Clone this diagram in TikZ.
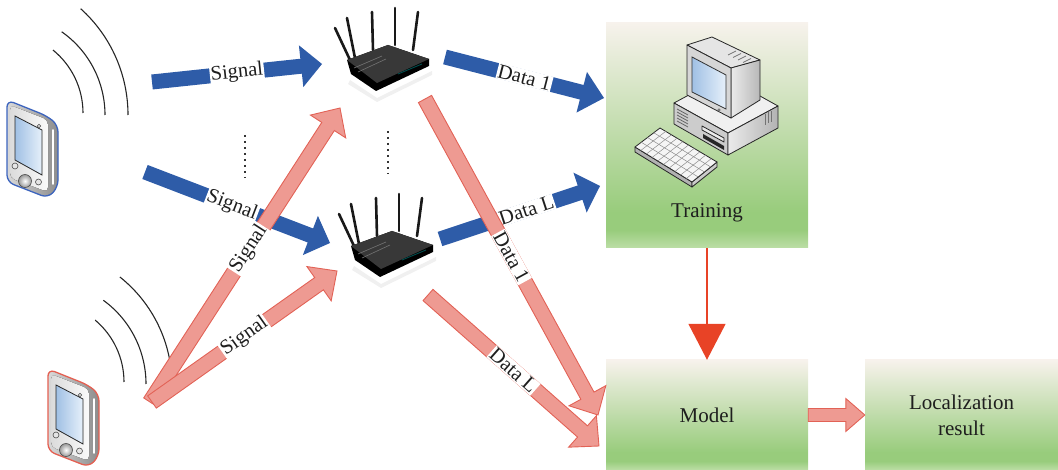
\documentclass[tikz,border=0pt]{standalone}
\usepackage{fontspec}
\setmainfont{Liberation Serif}
\usetikzlibrary{calc,arrows.meta}

\definecolor{blueA}{RGB}{46,92,168}
\definecolor{redF}{RGB}{238,154,146}
\definecolor{redL}{RGB}{226,98,86}
\definecolor{trainred}{RGB}{232,67,38}
\definecolor{txt}{RGB}{30,30,30}
\definecolor{edgeblue}{RGB}{60,100,190}
\definecolor{edgered}{RGB}{228,96,82}
\definecolor{gTop}{RGB}{247,242,236}
\definecolor{gGreen}{RGB}{152,204,124}
\definecolor{gBot}{RGB}{188,222,166}
\definecolor{screenA}{RGB}{160,192,228}
\definecolor{screenB}{RGB}{230,240,250}

% light-to-green fill of the process boxes (bottom = 25bp, top = 75bp)
\pgfdeclareverticalshading{boxshade}{100bp}{color(0bp)=(gBot); color(25bp)=(gBot); color(29bp)=(gGreen); color(33bp)=(gGreen); color(75bp)=(gTop); color(100bp)=(gTop)}

% block arrow from #2 to #3: shaft half width #4, head half width #5, head length #6
\newcommand{\drawfatarrow}[6]{%
  \coordinate (fab) at ($(#3)!#6!(#2)$);
  \path[#1] ($(#2)!#4!90:(#3)$) -- ($(fab)!#4!90:(#3)$) -- ($(fab)!#5!90:(#3)$) -- (#3)
    -- ($(fab)!#5!-90:(#3)$) -- ($(fab)!#4!-90:(#3)$) -- ($(#2)!#4!-90:(#3)$) -- cycle;}

\tikzset{
  lbl/.style={fill=white, inner sep=1pt, text=txt, font=\fontsize{20.5}{24}\selectfont},
  bluearrow/.style={fill=blueA},
  redarrow/.style={fill=redF, draw=redL, line width=0.9pt, line join=miter},
  greenbox/.style={shade, shading=boxshade, draw=none, inner sep=0pt,
    text=txt, font=\fontsize{21}{26}\selectfont, align=center},
  boxtext/.style={text=txt, font=\fontsize{21}{26}\selectfont, align=center},
  wave/.style={draw=black!85, line width=1.1pt},
  dotline/.style={draw=black!80, line width=1.8pt, dash pattern=on 1.8pt off 4.2pt},
  cpuedge/.style={draw=black!85, line width=0.8pt, line join=round},
  pics/pda/.style={code={
    \draw[draw=#1, line width=1.3pt, rounded corners=7pt, left color=black!15, right color=black!45]
      (0,2) -- (40,18) -- (51,27) -- (51,89) -- (41,100) -- (0,84) -- cycle;
    \fill[rounded corners=5pt, left color=black!14, right color=black!2]
      (3,7) -- (41,22) -- (41,94) -- (3,80) -- cycle;
    \draw[white, line width=1.6pt, line cap=round] (46,32) -- (46,86);
    \draw[black!85, line width=0.8pt, left color=screenA, right color=screenB]
      (8,18) -- (35,32) -- (35,77) -- (8,62) -- cycle;
    \draw[black!70, fill=black!10, line width=0.5pt] (32,28) circle (1.8);
    \draw[black!70, fill=black!10, line width=0.6pt] (8,68) circle (3);
    \draw[black!70, inner color=white, outer color=black!40, line width=0.6pt] (18,83) circle (6.5);
    \draw[black!70, fill=black!10, line width=0.6pt] (31.5,84) circle (3);
  }},
  pics/router/.style={code={
    \foreach \ax/\ay/\bx/\by in {-45/-22/-30/10, -33/-32/-25/8, -8/-38/-7/0, 15/-42/15/-5, 38/-38/33/0}
      \draw[black!90, line width=2.6pt, line cap=round] (\ax,\ay) -- (\bx,\by);
    \fill[black!6] (-30,30) -- (-3,48) -- (52,21) -- (52,25) -- (-3,52) -- (-32,34) -- cycle;
    \fill[black] (-33,10) -- (8,-5) -- (49,9) -- (49,16) -- (-4,41) -- (-29,24) -- cycle;
    \fill[black!78] (-33,10) -- (8,-5) -- (49,9) -- (-3,33) -- cycle;
    \draw[black!55, line width=0.6pt] (-26,18) -- (2,6) (-22,22) -- (6,9);
    \draw[teal!60!black, line width=0.9pt] (18,24) -- (42,14);
  }},
}

\begin{document}
\begin{tikzpicture}[x={(1pt,0pt)}, y={(0pt,-1pt)}]
\useasboundingbox (0,0) rectangle (1058,470);

% process boxes
\node[greenbox, minimum width=202pt, minimum height=225pt] (train) at (707,135.5) {};
\node[greenbox, minimum width=202pt, minimum height=110pt] (model) at (707,415) {Model};
\node[greenbox, minimum width=193pt, minimum height=110pt] (loc) at (961.5,415) {Localization\\result};

% workstation: processing unit
\draw[cpuedge, fill=black!6] (674,103) -- (724,76) -- (778,106) -- (728,133) -- cycle;
\draw[cpuedge, fill=black!20] (674,103) -- (728,133) -- (728,155) -- (674,124) -- cycle;
\draw[cpuedge, left color=black!8, right color=black!30] (728,133) -- (778,106) -- (778,128) -- (728,155) -- cycle;
\foreach \k in {0,...,4}
  \draw[black!60, line width=0.8pt] (677,{109+3*\k}) -- (688,{115+3*\k});
\draw[cpuedge, fill=black!8] (702,126) -- (724,138) -- (724,142) -- (702,130) -- cycle;
\fill[black!85] (703,134) -- (724,146) -- (724,150) -- (703,138) -- cycle;
\foreach \k in {0,1,2}
  \draw[black!55, line width=1pt] ({765+3*\k},{114-1.6*\k}) -- ++(0,11);

% workstation: monitor
\draw[cpuedge, fill=black!10] (687,45) -- (712,37) -- (760,60) -- (731,68) -- cycle;
\foreach \k in {0,...,3}
  \draw[black!55, line width=0.7pt] ({728+5*\k},{55+2.5*\k}) -- ++(8,-4);
\draw[cpuedge, left color=black!8, right color=black!28] (731,68) -- (760,60) -- (760,100) -- (731,118) -- cycle;
\draw[cpuedge, fill=black!16] (687,45) -- (731,68) -- (731,118) -- (687,95) -- cycle;
\draw[black!80, line width=0.8pt, left color=screenA, right color=screenB]
  (692,57) -- (726,75) -- (726,109) -- (692,92) -- cycle;
\draw[black!70, fill=white, line width=0.5pt] (719,110) circle (1.3);

% workstation: keyboard
\coordinate (kL) at (635,147);
\coordinate (kT) at (660,128);
\coordinate (kR) at (717,162);
\coordinate (kB) at (692,182);
\draw[cpuedge, fill=black!30] (635,147) -- (692,182) -- (692,187) -- (635,152) -- cycle;
\draw[cpuedge, fill=black!20] (692,182) -- (717,162) -- (717,167) -- (692,187) -- cycle;
\draw[cpuedge, fill=black!4] (kL) -- (kT) -- (kR) -- (kB) -- cycle;
\foreach \u in {0.1,0.2,...,0.9}
  \draw[black!45, line width=0.5pt] ($(kL)!\u!(kB)$) -- ($(kT)!\u!(kR)$);
\foreach \v in {0.25,0.5,0.75}
  \draw[black!45, line width=0.5pt] ($(kL)!\v!(kT)$) -- ($(kB)!\v!(kR)$);

\node[boxtext] (trainlbl) at (707,213) {Training};

% training produces the model
\draw[trainred, line width=1.5pt, -{Triangle[width=37pt,length=36pt]}] (train.south) -- (model.north);

% mobile terminals and their radio waves
\pic at (7,98) {pda=edgeblue};
\pic at (48,367) {pda=edgered};
\draw[wave] (128,115) arc[start angle=0, end angle=-48, radius=143];
\draw[wave] (105,115) arc[start angle=0, end angle=-55, radius=101.6];
\draw[wave] (83,113) arc[start angle=0, end angle=-51, radius=81];
\draw[wave] (172,385) arc[start angle=0, end angle=-51.5, radius=138];
\draw[wave] (146,384) arc[start angle=0, end angle=-54, radius=103.5];
\draw[wave] (124,382) arc[start angle=0, end angle=-50, radius=80.8];

% access points
\pic at (380,50) {router};
\pic at (384,236) {router};
\draw[dotline] (245,135) -- (245,178);
\draw[dotline] (388,131) -- (388,174);

% arrow end points
\coordinate (a1s) at (152,82);  \coordinate (a1t) at (322,64);
\coordinate (a2s) at (145,172); \coordinate (a2t) at (330,243);
\coordinate (a3s) at (445,57);  \coordinate (a3t) at (604,98);
\coordinate (a4s) at (440,239); \coordinate (a4t) at (600,186);
\coordinate (r1s) at (150,402); \coordinate (r1t) at (340,108);
\coordinate (r2s) at (152,402); \coordinate (r2t) at (337,271);
\coordinate (r3s) at (425,99);  \coordinate (r3t) at (598,415);
\coordinate (r4s) at (428,295); \coordinate (r4t) at (599,446);

% offline phase (blue)
\drawfatarrow{bluearrow}{a1s}{a1t}{7.5pt}{21pt}{21pt}
\path (a1s) -- (a1t) node[lbl, sloped, midway] {Signal};
\drawfatarrow{bluearrow}{a2s}{a2t}{7.5pt}{21pt}{21pt}
\path (a2s) -- (a2t) node[lbl, sloped, pos=0.47] {Signal};
\drawfatarrow{bluearrow}{a3s}{a3t}{7.5pt}{21pt}{23pt}
\path (a3s) -- (a3t) node[lbl, sloped, midway] {Data 1};
\drawfatarrow{bluearrow}{a4s}{a4t}{7.5pt}{21pt}{21pt}
\path (a4s) -- (a4t) node[lbl, sloped, pos=0.54] {Data L};

% online phase (red)
\drawfatarrow{redarrow}{r1s}{r1t}{7.5pt}{21pt}{22pt}
\path (r1s) -- (r1t) node[lbl, sloped, pos=0.52] {Signal};
\drawfatarrow{redarrow}{r2s}{r2t}{7.5pt}{21pt}{22pt}
\path (r2s) -- (r2t) node[lbl, sloped, midway] {Signal};
\drawfatarrow{redarrow}{r3s}{r3t}{7.5pt}{21pt}{22pt}
\path (r3s) -- (r3t) node[lbl, sloped, midway] {Data 1};
\drawfatarrow{redarrow}{r4s}{r4t}{7.5pt}{21pt}{22pt}
\path (r4s) -- (r4t) node[lbl, sloped, midway] {Data L};
\drawfatarrow{redarrow}{model.east}{loc.west}{6.5pt}{16.5pt}{19pt}

\end{tikzpicture}
\end{document}
